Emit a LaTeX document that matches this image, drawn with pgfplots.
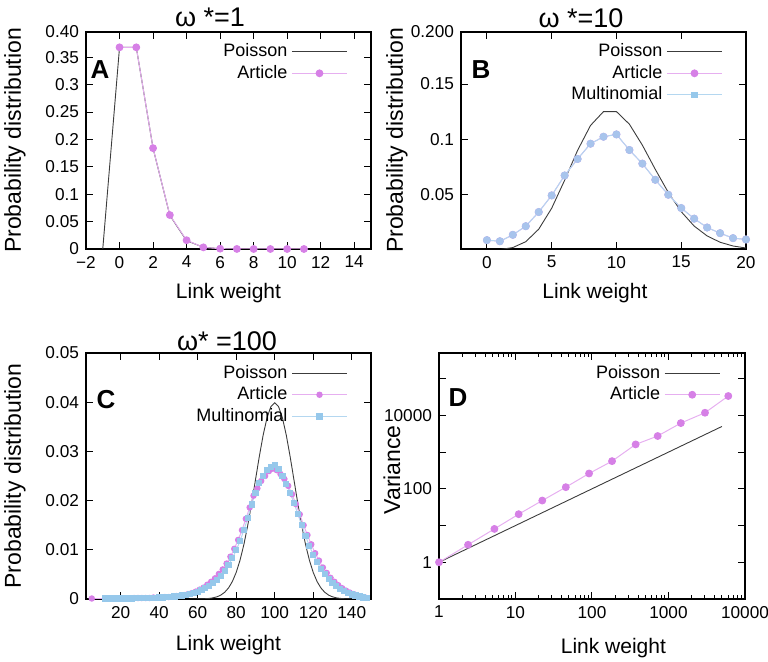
\documentclass[border=0pt]{standalone}
\usepackage{pgfplots}
\pgfplotsset{compat=1.18}
\usepackage{fontspec}
\setmainfont{Liberation Sans}
\definecolor{article}{RGB}{214,128,230}
\definecolor{articleline}{RGB}{230,175,240}
\definecolor{multi}{RGB}{150,200,235}
\definecolor{multiline}{RGB}{180,215,240}
\definecolor{multiB}{RGB}{168,196,236}
\definecolor{pois}{RGB}{60,60,60}
\newcommand{\fs}[1]{\fontsize{#1}{#1}\selectfont}
\pgfplotsset{
  panel/.style={
    scale only axis,
    axis line style={line width=0.6pt},
    every tick/.style={black, line width=0.5pt},
    major tick length=3.5pt,
    minor tick length=2pt,
    scaled ticks=false,
    /pgf/number format/assume math mode=true,
    /pgf/number format/1000 sep={},
    tick label style={font=\fs{8.6}},
    xlabel style={font=\fs{10.5}},
    ylabel style={font=\fs{11.5}},
    legend plot pos=right,
    legend cell align=right,
    legend style={draw=none, fill=none, font=\fs{9}, anchor=north east,
      row sep=-1.2pt},
    legend image code/.code={\draw[mark repeat=2,mark phase=2,#1] plot coordinates {(0pt,0pt) (13.75pt,0pt) (27.5pt,0pt)};},
  },
  poisson/.style={pois, line width=0.45pt, no marks},
  art/.style={articleline, line width=0.5pt, mark=*, mark size=1.7pt, mark options={article, fill=article, draw=none}},
  mult/.style={multiline, line width=0.5pt, mark=square*, mark size=1.3pt, mark options={multi, fill=multi, draw=none}},
}
\begin{document}
\begin{tikzpicture}
\useasboundingbox (0,0) rectangle (384pt,-331pt);
% ---------------- A
\begin{axis}[panel,
  at={(43pt,-124.5pt)}, anchor=south west, width=142.5pt, height=108.5pt,
  xmin=-2, xmax=15, ymin=0, ymax=0.396,
  xtick={-2,0,2,4,6,8,10,12,14},
  xticklabels={−2,0,2,4,6,8,10,12,14},
  ytick={0,0.05,0.1,0.15,0.2,0.25,0.3,0.35,0.396},
  yticklabels={0,0.05,0.1,0.15,0.2,0.25,0.3,0.35,0.40},
  xlabel={Link weight}, ylabel={Probability distribution},
  xlabel style={at={(axis description cs:0.5,-0.203)}, anchor=center},
  ylabel style={at={(axis description cs:-0.249,0.5)}, anchor=center},
  legend style={at={(axis description cs:0.94,0.985)}},
]
\addplot[poisson] coordinates {(-1,0) (0,0.3679) (1,0.3679) (2,0.1839) (3,0.0613) (4,0.0153) (5,0.0031) (6,0.0005) (7,0.0001) (8,0) (9,0) (10,0) (11,0)};
\addlegendentry{Poisson}
\addplot[art] coordinates {(0,0.368) (1,0.368) (2,0.184) (3,0.062) (4,0.016) (5,0.003) (6,0.0006) (7,0.0001) (8,0) (9,0) (10,0) (11,0)};
\addlegendentry{Article}
\node[font=\fs{13}\bfseries] at (axis description cs:0.049,0.825) {A};
\end{axis}
\node[font=\fs{13.5}] at (105pt,-8.5pt) {ω *=1};
% ---------------- B
\begin{axis}[panel,
  at={(230.5pt,-124.5pt)}, anchor=south west, width=142.5pt, height=108.5pt,
  xmin=-2, xmax=20, ymin=0.001, ymax=0.197,
  xtick={0,5,10,15,20},
  xticklabels={0,5,10,15,20},
  ytick={0.05,0.1,0.15,0.197},
  yticklabels={0.05,0.1,0.15,0.200},
  xlabel={Link weight}, ylabel={Probability distribution},
  xlabel style={at={(axis description cs:0.47,-0.203)}, anchor=center},
  ylabel style={at={(axis description cs:-0.225,0.5)}, anchor=center},
  legend style={at={(axis description cs:0.94,0.985)}},
]
\addplot[poisson] coordinates {(0,0.00005) (1,0.00045) (2,0.0023) (3,0.0076) (4,0.0189) (5,0.0378) (6,0.0631) (7,0.0901) (8,0.1126) (9,0.1251) (10,0.1251) (11,0.1137) (12,0.0948) (13,0.0729) (14,0.0521) (15,0.0347) (16,0.0217) (17,0.0128) (18,0.0071) (19,0.0037) (20,0.0019)};
\addlegendentry{Poisson}
\addplot[art] coordinates {(0,0.009) (1,0.008) (2,0.0138) (3,0.0216) (4,0.0344) (5,0.0494) (6,0.0674) (7,0.0823) (8,0.0961) (9,0.1024) (10,0.1045) (11,0.0904) (12,0.0781) (13,0.0635) (14,0.0500) (15,0.0380) (16,0.0284) (17,0.0204) (18,0.0153) (19,0.0108) (20,0.0096)};
\addlegendentry{Article}
\addplot[mult, mark=*, mark size=1.75pt, mark options={multiB, fill=multiB, draw=none}, legend image post style={mark=square*, mark size=1.3pt, mark options={multi, fill=multi, draw=none}}] coordinates {(0,0.009) (1,0.008) (2,0.0138) (3,0.0216) (4,0.0344) (5,0.0494) (6,0.0674) (7,0.0823) (8,0.0961) (9,0.1024) (10,0.1045) (11,0.0904) (12,0.0781) (13,0.0635) (14,0.0500) (15,0.0380) (16,0.0284) (17,0.0204) (18,0.0153) (19,0.0108) (20,0.0096)};
\addlegendentry{Multinomial}
\node[font=\fs{13}\bfseries] at (axis description cs:0.07,0.825) {B};
\end{axis}
\node[font=\fs{13.5}] at (290.5pt,-9pt) {ω *=10};
% ---------------- C
\begin{axis}[panel,
  at={(43pt,-299.5pt)}, anchor=south west, width=142.5pt, height=123pt,
  xmin=2, xmax=150, ymin=0, ymax=0.05,
  xtick={20,40,60,80,100,120,140},
  xticklabels={20,40,60,80,100,120,140},
  ytick={0,0.01,0.02,0.03,0.04,0.05},
  yticklabels={0,0.01,0.02,0.03,0.04,0.05},
  xlabel={Link weight}, ylabel={Probability distribution},
  xlabel style={at={(axis description cs:0.5,-0.187)}, anchor=center},
  ylabel style={at={(axis description cs:-0.249,0.5)}, anchor=center},
  legend style={at={(axis description cs:0.94,0.985)}},
]
\addplot[poisson] coordinates {(56,0) (60,0.00001) (64,0.00006) (66,0.00012) (68,0.00024) (70,0.00044) (72,0.00079) (74,0.00136) (76,0.00224) (78,0.00355) (80,0.0054) (82,0.0079) (84,0.01109) (86,0.01497) (88,0.01942) (90,0.0242) (92,0.02897) (94,0.03332) (96,0.03683) (98,0.0391) (100,0.03989) (102,0.0391) (104,0.03683) (106,0.03332) (108,0.02897) (110,0.0242) (112,0.01942) (114,0.01497) (116,0.01109) (118,0.0079) (120,0.0054) (122,0.00355) (124,0.00224) (126,0.00136) (128,0.00079) (130,0.00044) (132,0.00024) (134,0.00012) (136,0.00006) (140,0.00001) (144,0)};
\addlegendentry{Poisson}
\addplot[art, mark size=1.35pt] coordinates {(5,0.0001) (13,0.0001) (15,0.0001) (17,0.0001) (19,0.0001) (21,0.0001) (23,0.0001) (25,0.0001) (27,0.0002) (29,0.0002) (31,0.0002) (33,0.0002) (35,0.0002) (37,0.0003) (39,0.0003) (41,0.0003) (43,0.0004) (45,0.0004) (47,0.0005) (49,0.0006) (51,0.0007) (53,0.0008) (55,0.0010) (57,0.0012) (59,0.0015) (61,0.0019) (63,0.0023) (65,0.0029) (67,0.0035) (69,0.0042) (71,0.0051) (73,0.0060) (75,0.0072) (77,0.0086) (79,0.0102) (81,0.0120) (83,0.0140) (85,0.0163) (87,0.0186) (89,0.0210) (91,0.0225) (93,0.0240) (95,0.0250) (97,0.0260) (99,0.0265) (101,0.0262) (103,0.0254) (105,0.0244) (107,0.0230) (109,0.0213) (111,0.0193) (113,0.0172) (115,0.0150) (117,0.0130) (119,0.0111) (121,0.0093) (123,0.0078) (125,0.0064) (127,0.0053) (129,0.0043) (131,0.0035) (133,0.0028) (135,0.0022) (137,0.0017) (139,0.0013) (141,0.0010) (143,0.0007) (145,0.0005) (147,0.0003)};
\addlegendentry{Article}
\addplot[mult] coordinates {(12,0.0001) (14,0.0001) (16,0.0001) (18,0.0001) (20,0.0001) (22,0.0001) (24,0.0001) (26,0.0001) (28,0.0002) (30,0.0002) (32,0.0002) (34,0.0002) (36,0.0002) (38,0.0002) (40,0.0003) (42,0.0003) (44,0.0004) (46,0.0004) (48,0.0005) (50,0.0006) (52,0.0007) (54,0.0008) (56,0.0010) (58,0.0012) (60,0.0015) (62,0.0018) (64,0.0022) (66,0.0027) (68,0.0032) (70,0.0039) (72,0.0047) (74,0.0057) (76,0.0069) (78,0.0083) (80,0.0099) (82,0.0118) (84,0.0140) (86,0.0165) (88,0.0192) (90,0.0216) (92,0.0236) (94,0.0250) (96,0.0262) (98,0.0268) (100,0.0272) (102,0.0264) (104,0.0250) (106,0.0234) (108,0.0216) (110,0.0195) (112,0.0173) (114,0.0150) (116,0.0128) (118,0.0108) (120,0.0090) (122,0.0075) (124,0.0061) (126,0.0050) (128,0.0041) (130,0.0033) (132,0.0027) (134,0.0021) (136,0.0016) (138,0.0012) (140,0.0009) (142,0.0007) (144,0.0005) (146,0.0003) (148,0.0002)};
\addlegendentry{Multinomial}
\node[font=\fs{13}\bfseries] at (axis description cs:0.07,0.809) {C};
\end{axis}
\node[font=\fs{13.5}] at (113.5pt,-170.8pt) {ω* =100};
% ---------------- D
\begin{axis}[panel,
  at={(219.5pt,-299.5pt)}, anchor=south west, width=153pt, height=123pt,
  xmode=log, ymode=log, log basis x=10, log basis y=10,
  xmin=1, xmax=10000, ymin=0.1, ymax=500000,
  xtick={1,10,100,1000,10000},
  xticklabels={1,10,100,1000,10000},
  minor xtick={2,3,4,5,6,7,8,9,20,30,40,50,60,70,80,90,200,300,400,500,600,700,800,900,2000,3000,4000,5000,6000,7000,8000,9000},
  ytick={0.1,1,10,100,1000,10000,100000},
  yticklabels={,1,,100,,10000,},
  yminorticks=false,
  xlabel={Link weight}, ylabel={Variance},
  xlabel style={at={(axis description cs:0.57,-0.2)}, anchor=center},
  ylabel style={at={(axis description cs:-0.154,0.525)}, anchor=center},
  legend style={at={(axis description cs:0.94,0.985)}},
]
\addplot[poisson] coordinates {(1,1) (10,10) (100,100) (1000,1000) (5000,5000)};
\addlegendentry{Poisson}
\addplot[art] coordinates {(1,1) (2.4,3.0) (5.3,8.1) (11,20.4) (22.4,48) (45.5,111) (91.6,262) (183,568) (372,1620) (722,2740) (1450,6170) (3000,11800) (6050,33700)};
\addlegendentry{Article}
\node[font=\fs{13}\bfseries] at (axis description cs:0.062,0.817) {D};
\end{axis}
\end{tikzpicture}
\end{document}
